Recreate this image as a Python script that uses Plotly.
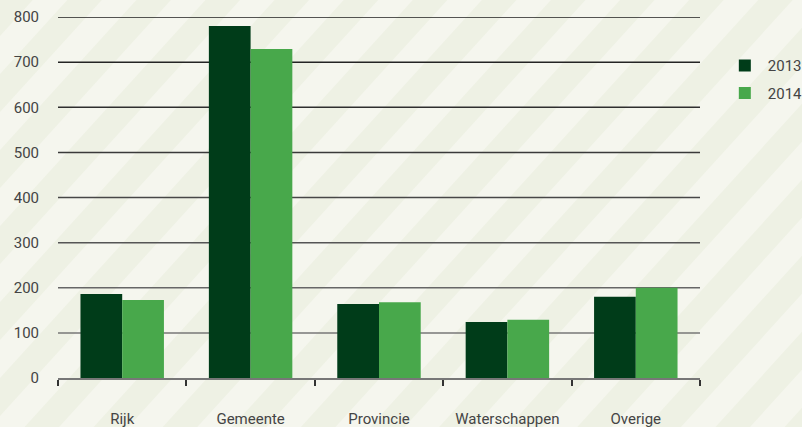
import plotly.graph_objects as go

categories = ["Rijk", "Gemeente", "Provincie", "Waterschappen", "Overige"]
values_2013 = [186, 780, 164, 124, 180]
values_2014 = [173, 729, 168, 129, 200]
y_ticks = [0, 100, 200, 300, 400, 500, 600, 700, 800]

DARK = "#003c19"
LIGHT = "#48a84b"

W, H = 802, 427
L, R, T, B = 58, 102, 17, 49
PW, PH = W - L - R, H - T - B


def to_paper(px, py):
    return (px - L) / PW, (H - B - py) / PH


# diagonal background stripes (pixel space -> paper space)
shapes = []
slope = 1.1
for c0 in range(74 - 76 * 2, int(H + slope * W) + 76, 76):
    c1 = c0 + 38
    pts = [(-10, c0 + slope * 10), (W + 10, c0 - slope * (W + 10)),
           (W + 10, c1 - slope * (W + 10)), (-10, c1 + slope * 10)]
    pp = [to_paper(x, y) for x, y in pts]
    path = "M " + " L ".join(f"{x:.4f},{y:.4f}" for x, y in pp) + " Z"
    shapes.append(dict(type="path", path=path, xref="paper", yref="paper",
                       fillcolor="#eef1e4", line=dict(width=0), layer="below"))

# gridlines fading from dark (top) to grey (bottom)
grid_colors = ["#777777", "#777777", "#666666", "#555555", "#474747",
               "#3a3a3a", "#2e2e2e", "#242424", "#1e1e1e"]
for v, col in zip(y_ticks[1:], grid_colors[1:]):
    shapes.append(dict(type="line", xref="paper", yref="y", x0=0, x1=1, y0=v, y1=v,
                       line=dict(color=col, width=1.5), layer="below"))

fig = go.Figure()
fig.add_trace(go.Bar(x=categories, y=values_2013, name="2013", marker_color=DARK,
                     marker_line_width=0, legendgroup="a"))
fig.add_trace(go.Bar(x=categories, y=values_2014, name="2014", marker_color=LIGHT,
                     marker_line_width=0, legendgroup="b"))

fig.update_layout(
    width=W, height=H,
    margin=dict(l=L, r=R, t=T, b=B, autoexpand=False),
    paper_bgcolor="#f5f6ee",
    plot_bgcolor="rgba(0,0,0,0)",
    font=dict(family="Roboto", size=15, color="#444444"),
    barmode="group",
    bargap=0.35,
    bargroupgap=0,
    shapes=shapes,
    showlegend=True,
    legend=dict(x=1.034, y=0.911, xanchor="left", yanchor="top",
                bgcolor="rgba(0,0,0,0)", font=dict(size=15, color="#444444"),
                traceorder="grouped", tracegroupgap=5, itemwidth=36),
    xaxis=dict(
        showgrid=False, showline=True, linecolor="#777777", linewidth=1.5,
        ticks="outside", tickson="boundaries", ticklen=6, tickcolor="#333333",
        tickwidth=1.5, ticklabelstandoff=26, automargin=False,
    ),
    yaxis=dict(
        range=[0, 800], tickvals=y_ticks, showgrid=False, zeroline=False,
        showline=False, ticks="", ticklabelstandoff=18, automargin=False,
    ),
)

fig.write_html(
    "out.html",
    config={"responsive": False, "displayModeBar": False},
    post_script="document.body.style.margin='0';document.body.style.overflow='hidden';",
)
